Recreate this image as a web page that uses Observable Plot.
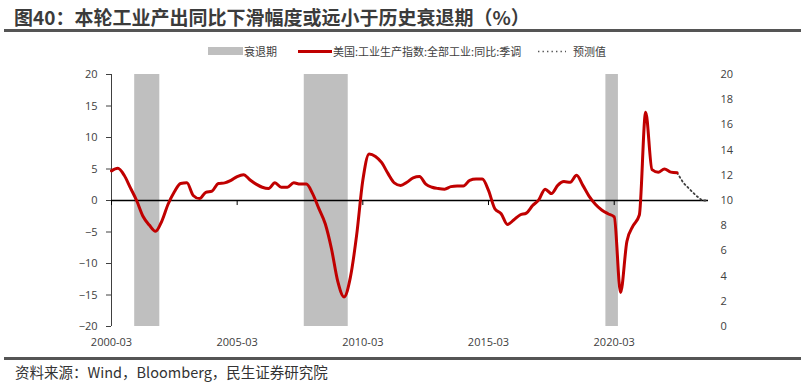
<!DOCTYPE html>
<html>
<head>
<meta charset="utf-8">
<script src="https://cdn.jsdelivr.net/npm/d3@7"></script>
<script src="https://cdn.jsdelivr.net/npm/@observablehq/plot@0.6"></script>
<style>
  body { margin: 0; background: #fff; }
  #wrap { position: relative; width: 805px; height: 390px; overflow: hidden; background: #fff;
          font-family: "Open Sans", "Noto Sans CJK SC", sans-serif; color: #404040; }
  .title { position: absolute; left: 14px; top: 6px; font: bold 19px/22px "Noto Sans CJK SC", sans-serif;
           color: #3b3b3b; white-space: nowrap; }
  .hr { position: absolute; left: 4px; width: 797px; height: 3px; background: #555; }
  .lg { position: absolute; font: 11px/14px "Noto Sans CJK SC", sans-serif; color: #404040; white-space: nowrap; top: 44px; }
  .caption { position: absolute; left: 15px; top: 362px; font: 14.5px/20px "Noto Sans CJK SC", sans-serif; color: #333; white-space: nowrap; }
  #chart { position: absolute; left: 0; top: 62px; }
</style>
</head>
<body>
<div id="wrap">
  <div class="title" id="title"></div>
  <div class="hr" style="top:29px"></div>
  <div id="legend"></div>
  <div id="chart"></div>
  <div class="hr" style="top:357px"></div>
  <div class="caption" id="caption"></div>
</div>
<script>
// ---- texts ----
const titleText = "图40：本轮工业产出同比下滑幅度或远小于历史衰退期（%）";
const captionText = "资料来源：Wind，Bloomberg，民生证券研究院";
const legendRecession = "衰退期";
const legendSeries = "美国:工业生产指数:全部工业:同比:季调";
const legendForecast = "预测值";

// ---- x axis ----
const xStart = "2000-03";
const xEnd = "2023-12";
const xTickLabels = ["2000-03", "2005-03", "2010-03", "2015-03", "2020-03"];
const leftTicks = [-20, -15, -10, -5, 0, 5, 10, 15, 20];
const rightTickLabels = [0, 2, 4, 6, 8, 10, 12, 14, 16, 18, 20];

// ---- series: US industrial production YoY (%), quarterly, 2000-03 .. 2022-09 ----
const seriesStart = "2000-03";
const seriesEnd = "2022-09";
const ipYoY = [
  4.7, 5.1, 4.0, 2.0,      // 2000
  0.0, -2.5, -3.9, -4.9,   // 2001
  -3.3, -0.6, 1.4, 2.7,    // 2002
  2.8, 0.8, 0.3, 1.3,      // 2003
  1.5, 2.7, 2.8, 3.2,      // 2004
  3.8, 4.1, 3.3, 2.6,      // 2005
  2.1, 1.9, 2.8, 2.1,      // 2006
  2.1, 2.8, 2.6, 2.6,      // 2007
  1.1, -1.3, -3.7, -7.7,   // 2008
  -12.8, -15.3, -12.2, -5.5, // 2009
  3.2, 7.4, 7.0, 6.0,      // 2010
  4.3, 2.8, 2.4, 2.9,      // 2011
  3.6, 3.8, 2.6, 2.1,      // 2012
  1.9, 1.8, 2.2, 2.3,      // 2013
  2.3, 3.2, 3.4, 3.4,      // 2014
  1.6, -1.3, -2.1, -3.8,   // 2015
  -3.1, -2.3, -2.0, -0.8,  // 2016
  0.1, 1.8, 1.1, 2.4,      // 2017
  3.0, 2.9, 4.0, 2.4,      // 2018
  0.7, -0.6, -1.5, -2.1,   // 2019
  -2.6, -14.6, -6.5, -4.0, // 2020
  -2.3, 14.0, 4.9, 4.5,    // 2021
  5.0, 4.5, 4.4            // 2022
];

// ---- forecast ----
const forecastDates = ["2022-09", "2022-12", "2023-03", "2023-06", "2023-09", "2023-12"];
const forecastValues = [4.4, 2.8, 1.8, 0.8, 0.0, 0.0];

// ---- recessions ----
const recessionStarts = ["2001-02", "2007-11", "2019-11"];
const recessionEnds   = ["2002-02", "2009-08", "2020-05"];

// ---- build ----
const parse = d3.utcParse("%Y-%m");
const fmt = d3.utcFormat("%Y-%m");
const seriesDates = d3.utcMonths(parse(seriesStart), d3.utcMonth.offset(parse(seriesEnd), 1), 3);
const series = seriesDates.map((d, i) => ({date: d, value: ipYoY[i]}));
const forecast = forecastDates.map((d, i) => ({date: parse(d), value: forecastValues[i]}));
const recessions = recessionStarts.map((s, i) => ({start: parse(s), end: parse(recessionEnds[i])}));
const xTicks = xTickLabels.map(parse);
const domainX = [parse(xStart), parse(xEnd)];

document.getElementById("title").textContent = titleText;
document.getElementById("caption").textContent = captionText;

const legend = document.getElementById("legend");
legend.innerHTML = `
  <div style="position:absolute;left:208px;top:47px;width:35px;height:8px;background:#bfbfbf"></div>
  <div class="lg" style="left:244px">${legendRecession}</div>
  <div style="position:absolute;left:298px;top:50px;width:34px;height:3px;background:#c00000"></div>
  <div class="lg" style="left:333px">${legendSeries}</div>
  <svg style="position:absolute;left:536px;top:46px" width="32" height="10"><line x1="2" y1="5.5" x2="30" y2="5.5" stroke="#555" stroke-width="1.6" stroke-dasharray="1.4 3.1"/></svg>
  <div class="lg" style="left:573px">${legendForecast}</div>
`;

const chart = Plot.plot({
  width: 805,
  height: 290,
  marginLeft: 111,
  marginRight: 97,
  marginTop: 12,
  marginBottom: 26,
  style: {fontFamily: '"Open Sans", "Noto Sans CJK SC", sans-serif', fontSize: "11px", color: "#404040", background: "transparent"},
  x: {type: "utc", domain: domainX},
  y: {domain: [-20, 20]},
  marks: [
    Plot.rect(recessions, {x1: "start", x2: "end", fill: "#bfbfbf"}),
    Plot.ruleX([domainX[0]], {stroke: "#404040", strokeWidth: 1}),
    Plot.ruleY([0], {stroke: "#000", strokeWidth: 1.5}),
    Plot.ruleX(xTicks, {x: d => d, y1: 0, y2: -0.8, stroke: "#000", strokeWidth: 1}),
    Plot.axisY({anchor: "left", ticks: leftTicks, tickSize: 5, tickPadding: 9, stroke: "#404040", label: null}),
    Plot.axisY({anchor: "right", ticks: rightTickLabels.map(r => r * 2 - 20), tickFormat: d => String((d + 20) / 2), tickSize: 0, tickPadding: 12, label: null}),
    Plot.axisX({anchor: "bottom", ticks: xTicks, tickFormat: fmt, tickSize: 0, tickPadding: 12, label: null}),
    Plot.line(forecast, {x: "date", y: "value", stroke: "#404040", strokeWidth: 1.8, strokeDasharray: "1.4 3", strokeLinecap: "round"}),
    Plot.line(series, {x: "date", y: "value", stroke: "#c00000", strokeWidth: 3, curve: "monotone-x", strokeLinejoin: "round"})
  ]
});
document.getElementById("chart").appendChild(chart);
</script>
</body>
</html>
